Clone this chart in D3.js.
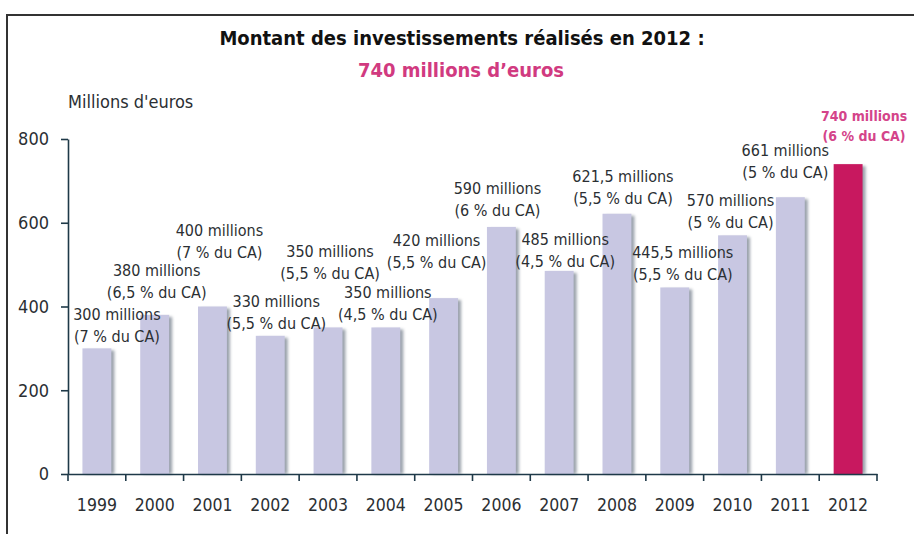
<!DOCTYPE html>
<html>
<head>
<meta charset="utf-8">
<script src="https://cdn.jsdelivr.net/npm/d3@7"></script>
<style>
  body { margin: 0; background: #fff; }
  svg text { font-family: 'Liberation Sans Narrow', 'DejaVu Sans Condensed', 'Roboto', sans-serif; fill: #2b2f33; }
</style>
</head>
<body>
<div id="chart"></div>
<script>
// values
var years = ['1999', '2000', '2001', '2002', '2003', '2004', '2005', '2006', '2007', '2008', '2009', '2010', '2011', '2012'];
var amounts = [300, 380, 400, 330, 350, 350, 420, 590, 485, 621.5, 445.5, 570, 661, 740];
var pctOfSales = [7, 6.5, 7, 5.5, 5.5, 4.5, 5.5, 6, 4.5, 5.5, 5.5, 5, 5, 6];
var yTicks = [0, 200, 400, 600, 800];

// the labels in the original are hand placed, so nudge each one (px)
var labelDx = [20, 2, 7, 6, 2, 2, -7, -4, 6, 6, 8, -2, -5, 16];
var labelDy = [-34, -45, -77, -35, -76, -35, -58, -39, -32, -38, -35, -35, -47, -49];

var W = 914, H = 534;
var margins = {left: 68, right: 37, top: 139, bottom: 60};

var svg = d3.select('#chart').append('svg')
  .attr('width', W)
  .attr('height', H);

var defs = svg.append('defs');
defs.append('filter').attr('id', 'blur')
  .attr('x', '-50%').attr('width', '200%')
  .append('feGaussianBlur').attr('stdDeviation', 1.4);

// frame (right and bottom edges are cut off in the original)
svg.append('path')
  .attr('d', 'M7,' + H + 'V15H' + W)
  .attr('fill', 'none')
  .attr('stroke', '#333')
  .attr('stroke-width', 2);

var x = d3.scaleBand()
  .domain(years)
  .range([margins.left, W - margins.right])
  .paddingInner(0.5)
  .paddingOuter(0.25);

var y = d3.scaleLinear()
  .domain([0, 800])
  .range([H - margins.bottom, margins.top]);

function fmt (v) {
  return String(v).replace('.', ',');
}

// titles
svg.append('text')
  .attr('x', 462).attr('y', 45)
  .attr('text-anchor', 'middle')
  .style('font-size', '20px').style('font-weight', 'bold')
  .style('fill', '#111')
  .text('Montant des investissements réalisés en 2012 :');
svg.append('text')
  .attr('x', 461).attr('y', 77)
  .attr('text-anchor', 'middle')
  .style('font-size', '20px').style('font-weight', 'bold')
  .style('fill', '#d13a80')
  .text('740 millions d\u2019euros');
svg.append('text')
  .attr('x', 68).attr('y', 108)
  .style('font-size', '18px')
  .text('Millions d\'euros');

// bars with a soft shadow on the right
var last = years[years.length - 1];
var bars = svg.append('g').selectAll('g')
  .data(years)
  .enter().append('g');

bars.append('rect')
  .attr('x', function (d) { return x(d) + 3; })
  .attr('y', function (d, i) { return y(amounts[i]) + 2; })
  .attr('width', x.bandwidth())
  .attr('height', function (d, i) { return y(0) - y(amounts[i]) - 2; })
  .attr('fill', '#6f7a88')
  .attr('opacity', 0.7)
  .attr('filter', 'url(#blur)');

bars.append('rect')
  .attr('x', function (d) { return x(d); })
  .attr('y', function (d, i) { return y(amounts[i]); })
  .attr('width', x.bandwidth())
  .attr('height', function (d, i) { return y(0) - y(amounts[i]); })
  .attr('fill', function (d) { return d === last ? '#c8185f' : '#c8c7e2'; });

// value labels
var labels = svg.append('g').selectAll('text')
  .data(years)
  .enter().append('text')
  .attr('text-anchor', 'middle')
  .attr('transform', function (d, i) {
    var cx = x(d) + x.bandwidth() / 2 + labelDx[i];
    var cy = y(amounts[i]) + labelDy[i] + 6;
    return 'translate(' + cx + ',' + cy + ')';
  })
  .style('font-size', function (d) { return d === last ? '14px' : '16px'; })
  .style('font-weight', function (d) { return d === last ? 'bold' : 'normal'; })
  .style('fill', function (d) { return d === last ? '#d4448a' : '#2b2f33'; });

labels.append('tspan')
  .attr('x', 0).attr('y', 0)
  .text(function (d, i) { return fmt(amounts[i]) + ' millions'; });
labels.append('tspan')
  .attr('x', 0)
  .attr('dy', function (d) { return d === last ? 20 : 22; })
  .text(function (d, i) { return '(' + fmt(pctOfSales[i]) + ' % du CA)'; });

// y axis
var yAxis = svg.append('g')
  .attr('class', 'y-axis')
  .attr('transform', 'translate(' + margins.left + ', 0)')
  .call(d3.axisLeft(y).tickValues(yTicks).tickSize(7).tickSizeOuter(0).tickPadding(12));
yAxis.selectAll('text').style('font-size', '18px');

// x axis: ticks sit between the categories
var xAxis = svg.append('g')
  .attr('class', 'x-axis')
  .attr('transform', 'translate(0, ' + y(0) + ')')
  .call(d3.axisBottom(x).tickSize(0).tickPadding(25));
xAxis.selectAll('text').style('font-size', '17.5px');

var bounds = years.map(function (d) { return x(d) - x.step() * x.paddingInner() / 2; });
bounds.push(W - margins.right);
xAxis.selectAll('.sep')
  .data(bounds)
  .enter().append('line')
  .attr('class', 'sep')
  .attr('x1', function (d) { return d; })
  .attr('x2', function (d) { return d; })
  .attr('y1', 0).attr('y2', 7);

svg.selectAll('.domain, .tick line, .sep')
  .attr('stroke', '#1e3948')
  .attr('stroke-width', 1.6);
</script>
</body>
</html>
